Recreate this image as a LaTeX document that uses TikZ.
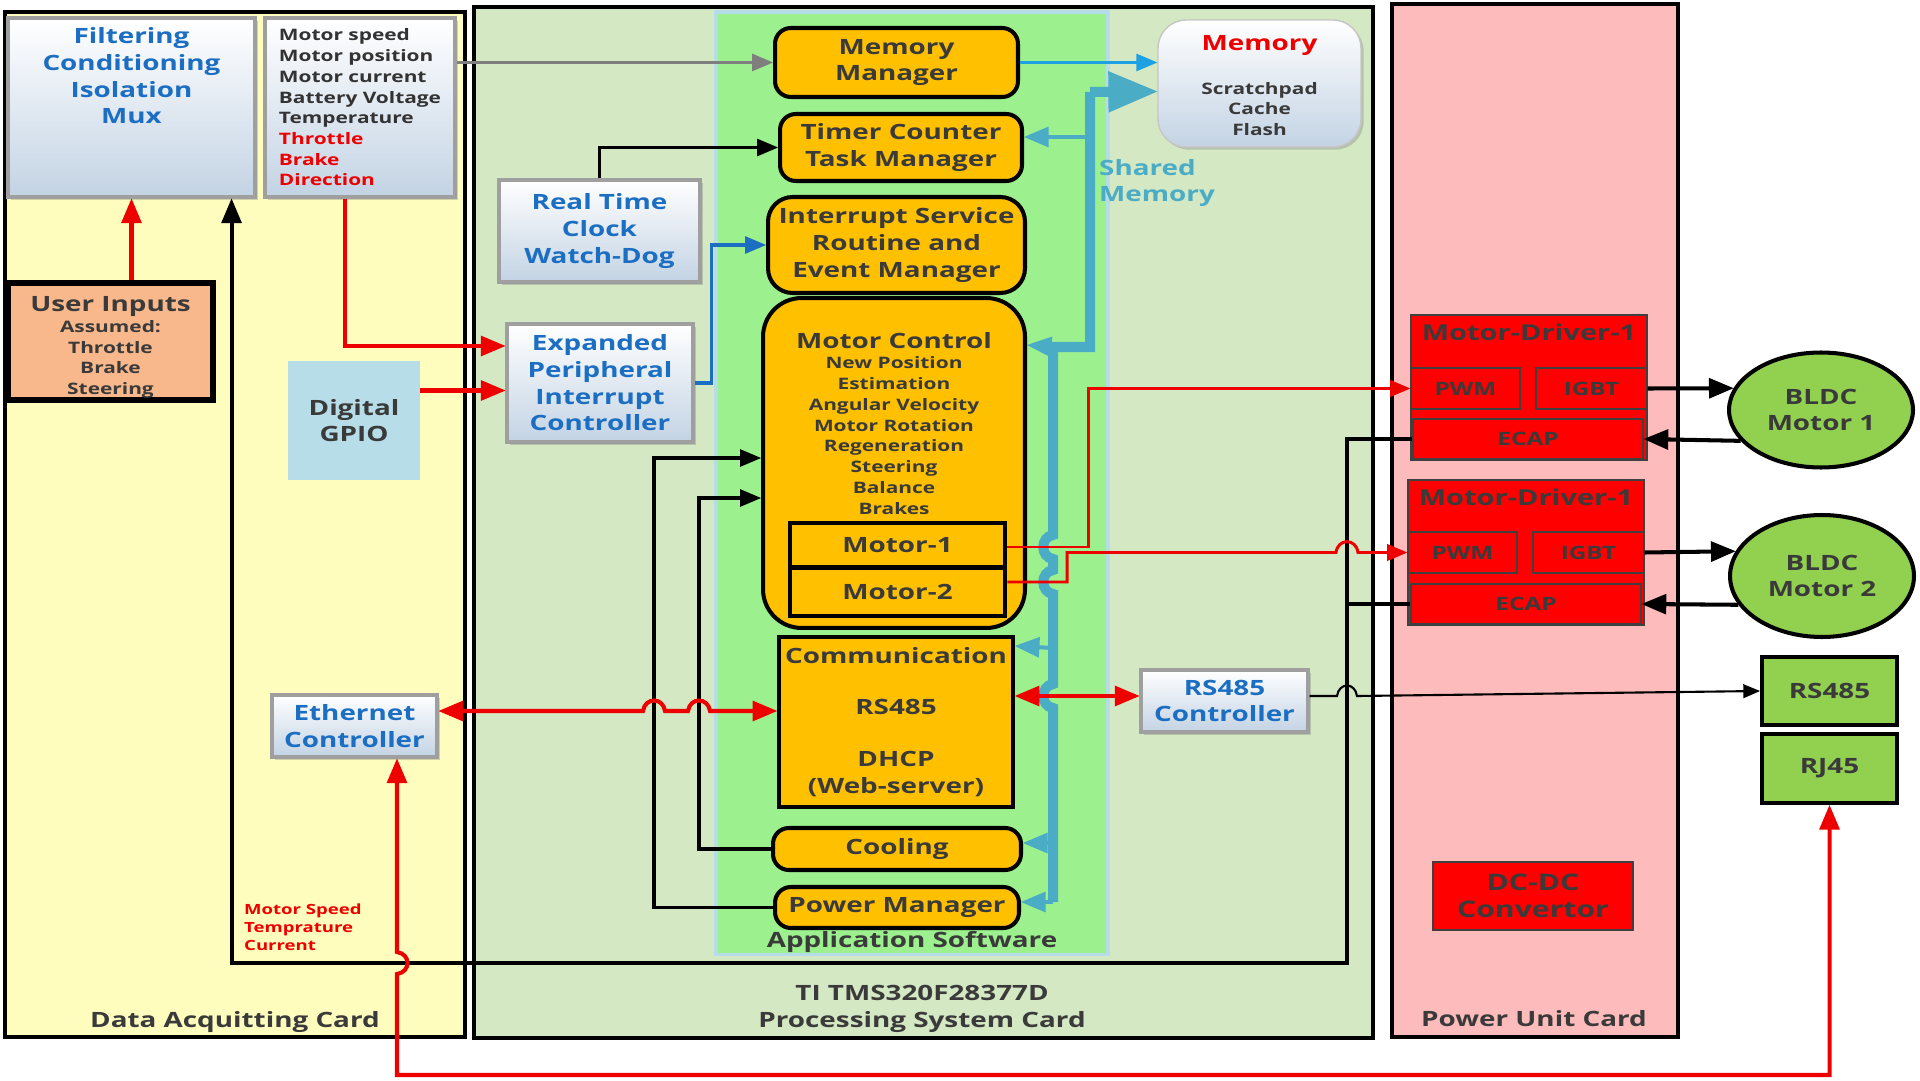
\documentclass[tikz,border=0pt]{standalone}
\usepackage{fontspec}
\setmainfont{Open Sans}[FakeStretch=1.32]
\usepackage{tikz}
\usetikzlibrary{shapes,arrows,positioning,calc,shadows}

\definecolor{dacYellow}{HTML}{FEFDBE}
\definecolor{pscGreen}{HTML}{D3E8C3}
\definecolor{appGreen}{HTML}{9DF08E}
\definecolor{appEdge}{HTML}{B5DDE8}
\definecolor{pucPink}{HTML}{FDBBBB}
\definecolor{mgrOrange}{HTML}{FFC000}
\definecolor{userOrange}{HTML}{F8B88B}
\definecolor{gpioBlue}{HTML}{B6DDE8}
\definecolor{boxBlue}{HTML}{C3D3E4}
\definecolor{txtBlue}{HTML}{1B6EC2}
\definecolor{busBlue}{HTML}{4BACC6}
\definecolor{cyanLine}{HTML}{1DA1E2}
\definecolor{portGreen}{HTML}{92D050}
\definecolor{drvRed}{HTML}{FF0000}
\definecolor{txtDark}{HTML}{3A3A3A}
\definecolor{lineRed}{HTML}{EE0000}
\definecolor{arrowGray}{HTML}{7F7F7F}

\newcommand{\fBig}{\fontsize{12}{15.2}\selectfont\bfseries}
\newcommand{\fMid}{\fontsize{10.5}{13}\selectfont\bfseries}
\newcommand{\fSmall}{\fontsize{9}{11.8}\selectfont\bfseries}
\newcommand{\fTiny}{\fontsize{8}{10.2}\selectfont\bfseries}

\begin{document}
\begin{tikzpicture}[x=0.02cm, y=-0.02cm,
    >=triangle 45,
    card/.style={rectangle, draw=black, line width=2.3pt, outer sep=0pt, anchor=north west},
    gbox/.style={rectangle, draw=gray!75, line width=1.8pt, top color=white, bottom color=boxBlue, text=txtBlue, font=\fBig, align=center, drop shadow={shadow xshift=1.5pt, shadow yshift=-1.5pt, opacity=.35}},
    obox/.style={rectangle, rounded corners=9pt, draw=black, line width=2.3pt, fill=mgrOrange, text=txtDark, font=\fBig, align=center},
    sbox/.style={rectangle, draw=black, line width=2.3pt, fill=mgrOrange, text=txtDark, font=\fBig, align=center},
    rbox/.style={rectangle, draw=black!75, line width=0.8pt, fill=drvRed, text=txtDark, font=\fMid, align=center},
    port/.style={rectangle, draw=black, line width=2.3pt, fill=portGreen, text=txtDark, font=\fBig},
    motor/.style={ellipse, draw=black, line width=2.3pt, fill=portGreen, text=txtDark, font=\fBig, align=center},
    arrow/.style={->, line width=2.3pt},
    bus/.style={draw=busBlue, line width=5.7pt},
    busarrow/.style={->, draw=busBlue, line width=2.3pt}
]
\fill[white] (0,0) rectangle (1920,1081);
\useasboundingbox (0,0) rectangle (1920,1081);

% Cards
\node[card, fill=dacYellow, minimum width=9.2cm, minimum height=20.5cm] (dac) at (5,12) {};
\node[card, fill=pscGreen, minimum width=17.98cm, minimum height=20.62cm] (psc) at (474,7) {};
\node[card, fill=pucPink, minimum width=5.72cm, minimum height=20.66cm] (puc) at (1392,4) {};
\node[card, fill=appGreen, draw=appEdge, line width=1.8pt, minimum width=7.84cm, minimum height=18.86cm] (app) at (716,12) {};

\node[font=\fBig, text=txtDark] at (235,1022) {Data Acquitting Card};
\node[font=\fBig, text=txtDark, align=center] at (922,1009) {TI TMS320F28377D\\Processing System Card};
\node[font=\fBig, text=txtDark] at (1534,1019) {Power Unit Card};
\node[font=\fBig, text=txtDark] at (912,942) {Application Software};

% Data Acquitting Card
\node[gbox, minimum width=4.94cm, minimum height=3.58cm,
  label={[anchor=north, align=center, text=txtBlue, font=\fBig, yshift=-0.1cm]north:Filtering\\Conditioning\\Isolation\\Mux}] (filter) at (131.5,107.5) {};
\node[gbox, minimum width=3.8cm, minimum height=3.58cm, text=black!80, font=\fSmall, align=left] (sensor) at (360,107.5)
  {Motor speed\\Motor position\\Motor current\\Battery Voltage\\Temperature\\\textcolor{lineRed}{Throttle}\\\textcolor{lineRed}{Brake}\\\textcolor{lineRed}{Direction}};
\node[rectangle, draw=black, line width=3pt, fill=userOrange, minimum width=4.1cm, minimum height=2.34cm,
  label={[anchor=north, align=center, text=txtDark, font=\fSmall, yshift=-0.2cm]north:{{\fBig User Inputs}\\Assumed:\\Throttle\\Brake\\Steering}}] (userin) at (110.5,341.5) {};
\node[rectangle, fill=gpioBlue, text=txtDark, font=\fBig, align=center, minimum width=2.64cm, minimum height=2.38cm] (gpio) at (354,420.5) {Digital\\GPIO};
\node[gbox, minimum width=3.3cm, minimum height=1.24cm] (ether) at (354.5,726) {Ethernet\\Controller};
\node[font=\fTiny, text=lineRed, align=left, anchor=west] at (238,927) {Motor Speed\\Temprature\\Current};

% Processing System Card
\node[gbox, minimum width=3.72cm, minimum height=2.36cm] (epic) at (600,383) {Expanded\\Peripheral\\Interrupt\\Controller};
\node[gbox, minimum width=4.02cm, minimum height=2.04cm] (rtc) at (599.5,231) {Real Time\\Clock\\Watch-Dog};
\node[obox, minimum width=4.86cm, minimum height=1.38cm] (memmgr) at (896.5,62.5) {Memory\\Manager};
\node[obox, minimum width=4.84cm, minimum height=1.34cm] (timer) at (901,147.5) {Timer Counter\\Task Manager};
\node[obox, rounded corners=14pt, minimum width=5.14cm, minimum height=1.92cm] (isr) at (896.5,245) {Interrupt Service\\Routine and\\Event Manager};
\node[obox, rounded corners=22pt, minimum width=5.24cm, minimum height=6.6cm,
  label={[anchor=north, align=center, text=txtDark, font=\fSmall, yshift=-0.6cm]north:{{\fBig Motor Control}\\New Position\\Estimation\\Angular Velocity\\Motor Rotation\\Regeneration\\Steering\\Balance\\Brakes}}] (motorctl) at (894,463) {};
\node[sbox, line width=2.6pt, minimum width=4.3cm, minimum height=0.88cm] (motorA) at (897.5,545) {Motor-1};
\node[sbox, line width=2.6pt, minimum width=4.3cm, minimum height=0.96cm] (motorB) at (897.5,592) {Motor-2};
\node[sbox, minimum width=4.64cm, minimum height=3.4cm] (comm) at (896,722) {Communication\\[14pt]RS485\\[14pt]DHCP\\(Web-server)};
\node[obox, minimum width=4.96cm, minimum height=0.84cm] (cooling) at (897,849) {Cooling};
\node[obox, minimum width=4.88cm, minimum height=0.82cm] (power) at (897,907.5) {Power Manager};
\node[gbox, draw=gray!45, line width=0.8pt, rounded corners=16pt, minimum width=4.06cm, minimum height=2.54cm,
  label={[anchor=north, align=center, text=txtDark, font=\fSmall, yshift=-0.2cm]north:{{\fBig\textcolor{lineRed}{Memory}}\\[13pt]Scratchpad\\Cache\\Flash}}] (memory) at (1259.5,83.5) {};
\node[font=\fBig, text=busBlue, align=left, anchor=west] (shared) at (1093,183) {Shared\\Memory};
\node[gbox, minimum width=3.34cm, minimum height=1.24cm] (rsctl) at (1224.5,701) {RS485\\Controller};

% Power Unit Card
\node[rbox, minimum width=4.72cm, minimum height=2.9cm,
  label={[anchor=north, text=txtDark, font=\fontsize{12.5}{14}\selectfont\bfseries, yshift=-0.06cm]north:Motor-Driver-1}] (drvA) at (1529,387.5) {};
\node[rbox, minimum width=2.18cm, minimum height=0.82cm] (pwmA) at (1465.5,388.5) {PWM};
\node[rbox, minimum width=2.22cm, minimum height=0.82cm] (igbtA) at (1591.5,388.5) {IGBT};
\node[rbox, minimum width=4.6cm, minimum height=0.8cm] (ecapA) at (1528,439) {ECAP};
\node[rbox, minimum width=4.72cm, minimum height=2.9cm,
  label={[anchor=north, text=txtDark, font=\fontsize{12.5}{14}\selectfont\bfseries, yshift=-0.06cm]north:Motor-Driver-1}] (drvB) at (1526,552.5) {};
\node[rbox, minimum width=2.18cm, minimum height=0.82cm] (pwmB) at (1462.5,552.5) {PWM};
\node[rbox, minimum width=2.22cm, minimum height=0.82cm] (igbtB) at (1588.5,552.5) {IGBT};
\node[rbox, minimum width=4.6cm, minimum height=0.8cm] (ecapB) at (1526,604) {ECAP};
\node[rbox, font=\fontsize{13}{15.5}\selectfont\bfseries, minimum width=4cm, minimum height=1.36cm] (dcdc) at (1533,896) {DC-DC\\Convertor};

% Outside
\node[motor, minimum width=3.68cm, minimum height=2.3cm] (bldcA) at (1821,410) {BLDC\\Motor 1};
\node[motor, minimum width=3.68cm, minimum height=2.44cm] (bldcB) at (1822,576) {BLDC\\Motor 2};
\node[port, minimum width=2.7cm, minimum height=1.36cm] (rsport) at (1829.5,691) {RS485};
\node[port, minimum width=2.7cm, minimum height=1.38cm, below=0.1cm of rsport] (rjport) {RJ45};

% Shared memory bus
\draw[bus] (1053,902) coordinate (busEnd) -- (1053,708) .. controls (1040,706) and (1040,686) .. (1053,684)
  -- (1053,594) .. controls (1040,592) and (1040,572) .. (1053,570)
  -- (1053,559) .. controls (1040,557) and (1040,537) .. (1053,535)
  -- (1053,347) coordinate (busKnee) -- (1090,347) -- (1090,92);
\draw[->, busBlue, line width=5.7pt] (1090,92) -- ($(memory.west)+(0,8)$);
\draw[busarrow] (1090,137) -- ($(timer.east)+(0,-10.5)$);
\draw[busarrow] (busKnee) -- ($(motorctl.north east)+(0,49)$);
\draw[busarrow] (1053,648) -- ($(comm.north east)+(0,11)$);
\draw[busarrow] (1053,843) -- ($(cooling.east)+(0,-6)$);
\draw[busarrow] (busEnd) -- ($(power.east)+(0,-5.5)$);

% Connections
\draw[arrow, lineRed] (userin.north -| filter.south) -- (filter.south);
\draw[arrow, lineRed] ($(sensor.south)+(-15,0)$) |- ($(epic.west)+(0,-37)$);
\draw[arrow, lineRed] ($(gpio.east)+(0,-30)$) -- ($(epic.west)+(0,7.5)$);
\draw[arrow, arrowGray, line width=1.8pt] (sensor.east |- memmgr.west) -- (memmgr.west);
\draw[arrow, line width=1.8pt] (rtc.north) |- (timer.west);
\draw[arrow, txtBlue, line width=1.8pt] (epic.east) -- ++(17,0) |- (isr.west);
\draw[arrow, cyanLine, line width=1.8pt] (memmgr.east) -- (memmgr.east -| memory.west);
\draw[arrow, line width=1.8pt] (power.west) -| (654,458) -- ($(motorctl.west)+(0,-5)$);
\draw[arrow, line width=1.8pt] (cooling.west) -| (699,498) -- ($(motorctl.west)+(0,35)$);

% feedback loop
\draw[arrow] (ecapA.west) -- (1347,439) -- (1347,963) -| ($(filter.south east)+(-25,0)$);
\draw[line width=2.3pt] (ecapB.west) -- (1347,604);

% motor lines
\draw[arrow, lineRed, line width=1.7pt] ($(motorA.east)+(0,2)$) -- (1088,547) |- (pwmA.west);
\draw[arrow, lineRed, line width=1.7pt] ($(motorB.east)+(0,-10)$) -- (1067,582) |- (1336,552.5)
  .. controls (1338,538) and (1356,538) .. (1358,552.5) -- (pwmB.west);

% communication
\draw[<->, lineRed, line width=2.3pt] ($(comm.east)+(0,-26)$) -- ($(rsctl.west)+(0,-5)$);
\draw[<->, lineRed, line width=2.3pt] ($(ether.east)+(0,-15)$) -- (643,711) .. controls (645,697) and (663,697) .. (665,711)
  -- (688,711) .. controls (690,697) and (708,697) .. (710,711) -- ($(comm.west)+(0,-11)$);
\draw[->, line width=1.2pt] ($(rsctl.east)+(0,-5)$) -- (1337,696) .. controls (1339,682) and (1355,682) .. (1357,696) -- (rsport.west);
\draw[<->, lineRed, line width=2.3pt] ($(ether.south)+(42.5,0)$) -- (397,952) .. controls (411,954) and (411,972) .. (397,974)
  -- (397,1075) -| (rjport.south);

% motors
\draw[arrow] (igbtA.east) -- (bldcA.166);
\draw[arrow] (bldcA.201) -- (ecapA.east);
\draw[arrow] (igbtB.east) -- (bldcB.164);
\draw[arrow] (bldcB.199) -- (ecapB.east);

\end{tikzpicture}
\end{document}
